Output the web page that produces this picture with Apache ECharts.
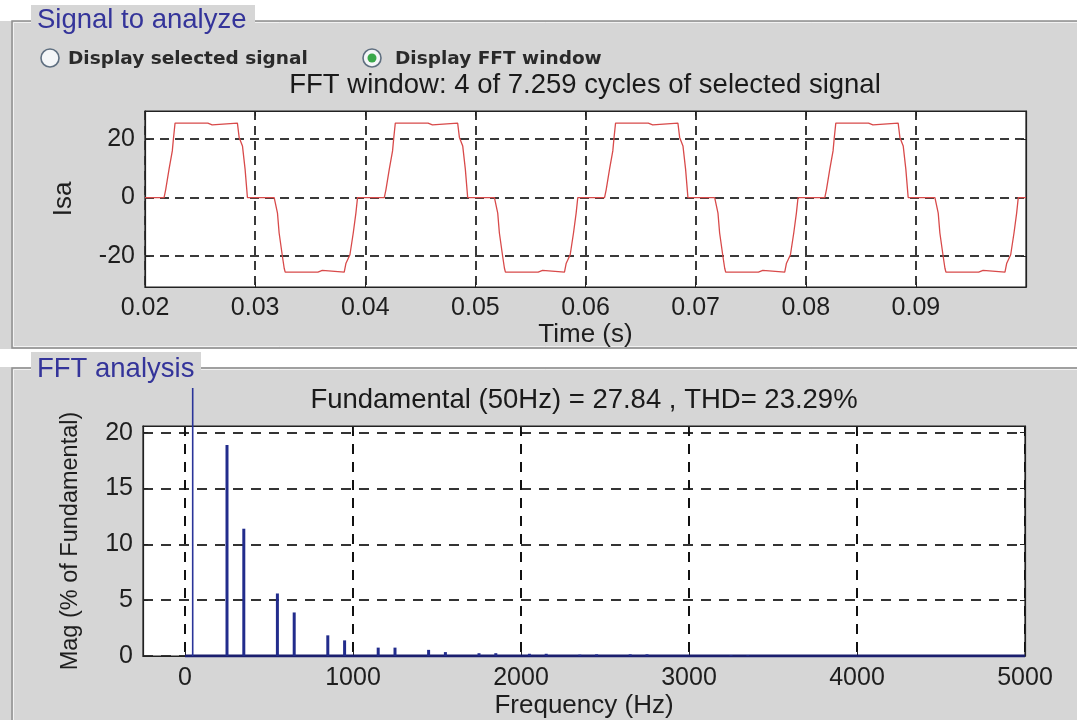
<!DOCTYPE html>
<html>
<head>
<meta charset="utf-8">
<script src="https://cdn.jsdelivr.net/npm/echarts@6/dist/echarts.min.js"></script>
<style>
html,body{margin:0;padding:0;background:#ffffff;}
#chart{width:1077px;height:720px;}
</style>
</head>
<body>
<div id="chart"></div>
<script>
// ---- Time-domain signal (Isa vs time, s) ----
const timeS = [
  0.02,
  0.02173,0.02188,0.02218,0.02248,0.02258,0.02273,0.0257,0.0258,0.0261,0.0262,0.02839,0.02855,0.02885,0.02909,0.0293,0.03173,0.03203,0.03218,0.03248,0.03264,0.03273,0.0357,0.0358,0.0361,0.0362,0.03809,0.03825,0.03861,0.03891,0.03915,0.0393,
  0.04173,0.04188,0.04218,0.04248,0.04258,0.04273,0.0457,0.0458,0.0461,0.0462,0.04839,0.04855,0.04885,0.04909,0.0493,0.05173,0.05203,0.05218,0.05248,0.05264,0.05273,0.0557,0.0558,0.0561,0.0562,0.05809,0.05825,0.05861,0.05891,0.05915,0.0593,
  0.06173,0.06188,0.06218,0.06248,0.06258,0.06273,0.0657,0.0658,0.0661,0.0662,0.06839,0.06855,0.06885,0.06909,0.0693,0.07173,0.07203,0.07218,0.07248,0.07264,0.07273,0.0757,0.0758,0.0761,0.0762,0.07809,0.07825,0.07861,0.07891,0.07915,0.0793,
  0.08173,0.08188,0.08218,0.08248,0.08258,0.08273,0.0857,0.0858,0.0861,0.0862,0.08839,0.08855,0.08885,0.08909,0.0893,0.09173,0.09203,0.09218,0.09248,0.09264,0.09273,0.0957,0.0958,0.0961,0.0962,0.09809,0.09825,0.09861,0.09891,0.09915,0.0993,
  0.1
];
const isaValues = [
  0,
  0,2.7,9.6,15.9,20,25.4,25.4,24.8,24.8,25.4,25.4,20.5,17.6,9.6,0,0,-5.3,-12.1,-20.1,-24.1,-25.4,-25.4,-24.8,-24.8,-25.4,-25.4,-22.4,-19.5,-12.1,-5.3,0,
  0,2.7,9.6,15.9,20,25.4,25.4,24.8,24.8,25.4,25.4,20.5,17.6,9.6,0,0,-5.3,-12.1,-20.1,-24.1,-25.4,-25.4,-24.8,-24.8,-25.4,-25.4,-22.4,-19.5,-12.1,-5.3,0,
  0,2.7,9.6,15.9,20,25.4,25.4,24.8,24.8,25.4,25.4,20.5,17.6,9.6,0,0,-5.3,-12.1,-20.1,-24.1,-25.4,-25.4,-24.8,-24.8,-25.4,-25.4,-22.4,-19.5,-12.1,-5.3,0,
  0,2.7,9.6,15.9,20,25.4,25.4,24.8,24.8,25.4,25.4,20.5,17.6,9.6,0,0,-5.3,-12.1,-20.1,-24.1,-25.4,-25.4,-24.8,-24.8,-25.4,-25.4,-22.4,-19.5,-12.1,-5.3,0,
  0
];
const timeTicks = [0.02,0.03,0.04,0.05,0.06,0.07,0.08,0.09];
const isaTicks = [-20,0,20];

// ---- FFT spectrum (% of fundamental) ----
const fundFreq = [50];
const fundMag = [24];          // drawn height (bar runs above the axes box)
const harmFreq = [250,350,550,650,850,950,1150,1250,1450,1550,1750,1850,2050,2150,2350,2450,2650,2750,3250,3350];
const harmMag  = [18.9,11.4,5.6,3.9,1.85,1.4,0.75,0.75,0.55,0.35,0.25,0.25,0.2,0.2,0.12,0.15,0.15,0.15,0.08,0.08];
const floorFreq = [0,5000];
const floorMag = [0,0];
const freqTicks = [0,1000,2000,3000,4000,5000];
const magTicks = [0,5,10,15,20];

// ---- Texts ----
const panel1Title = 'Signal to analyze';
const panel2Title = 'FFT analysis';
const radio1Text = 'Display selected signal';
const radio2Text = 'Display FFT window';
const topTitle = 'FFT window: 4 of 7.259 cycles of selected signal';
const bottomTitle = 'Fundamental (50Hz) = 27.84 , THD= 23.29%';

const FONT = "'Liberation Sans', Arial, sans-serif";
const PANEL = '#d6d6d6';
const gridDash = {show:true, lineStyle:{color:'#3a3a3a', width:2, type:[9,6]}};

function axisBase(grid, min, max, pos){
  return {gridIndex:grid, type:'value', min:min, max:max, position:pos,
    axisLine:{show:true, onZero:false, lineStyle:{color:'#222', width:1.2}},
    axisTick:{show:true, inside:true, length:5, lineStyle:{color:'#222'}},
    splitLine:{show:false}};
}

const labelStyle = {color:'#1e1e1e', fontSize:25, fontFamily:FONT};
const nameStyle = {color:'#1e1e1e', fontSize:26, fontFamily:FONT};
const plain = v => String(v);

const x0 = Object.assign(axisBase(0, 0.02, 0.1, 'bottom'), {
  axisLabel:Object.assign({show:true, margin:9, customValues:timeTicks}, labelStyle),
  axisTick:{show:true, inside:true, length:5, customValues:timeTicks, lineStyle:{color:'#222'}},
  splitLine:gridDash,
  name:'Time (s)', nameLocation:'middle', nameGap:34, nameTextStyle:nameStyle
});
const x1 = Object.assign(axisBase(0, 0.02, 0.1, 'top'), {
  axisLabel:{show:false},
  axisTick:{show:true, inside:true, length:5, customValues:timeTicks, lineStyle:{color:'#222'}}
});
const y0 = Object.assign(axisBase(0, -30.5, 29.5, 'left'), {
  axisLabel:Object.assign({show:true, margin:10, customValues:isaTicks}, labelStyle),
  axisTick:{show:true, inside:true, length:5, customValues:isaTicks, lineStyle:{color:'#222'}},
  splitLine:gridDash,
  name:'Isa', nameLocation:'middle', nameGap:68, nameTextStyle:nameStyle
});
const y1 = Object.assign(axisBase(0, -30.5, 29.5, 'right'), {
  axisLabel:{show:false},
  axisTick:{show:true, inside:true, length:5, customValues:isaTicks, lineStyle:{color:'#222'}}
});

const x2 = Object.assign(axisBase(1, -250, 5000, 'bottom'), {
  axisLabel:Object.assign({show:true, margin:10, customValues:freqTicks, formatter:plain}, labelStyle),
  axisTick:{show:true, inside:true, length:5, customValues:freqTicks, lineStyle:{color:'#222'}},
  splitLine:{show:true, lineStyle:{color:'#111', width:2, type:[10,8]}},
  name:'Frequency (Hz)', nameLocation:'middle', nameGap:37, nameTextStyle:nameStyle
});
const x3 = Object.assign(axisBase(1, -250, 5000, 'top'), {
  axisLabel:{show:false},
  axisTick:{show:true, inside:true, length:5, customValues:freqTicks, lineStyle:{color:'#222'}}
});
const y2 = Object.assign(axisBase(1, 0, 20.6, 'left'), {
  axisLabel:Object.assign({show:true, margin:10, customValues:magTicks, formatter:plain}, labelStyle),
  axisTick:{show:true, inside:true, length:5, customValues:magTicks, lineStyle:{color:'#222'}},
  splitLine:{show:true, lineStyle:{color:'#333', width:2, type:[10,8]}},
  name:'Mag (% of Fundamental)', nameLocation:'middle', nameGap:60,
  nameTextStyle:{color:'#1e1e1e', fontSize:23.5, fontFamily:FONT}
});
const y3 = Object.assign(axisBase(1, 0, 20.6, 'right'), {
  axisLabel:{show:false},
  axisTick:{show:true, inside:true, length:5, customValues:magTicks, lineStyle:{color:'#222'}}
});

const chart = echarts.init(document.getElementById('chart'), null, {renderer:'canvas'});

const RADIO_FONT = "'DejaVu Sans', sans-serif";
const graphics = [
  {type:'rect', z:-100, shape:{x:0,y:0,width:1077,height:720}, style:{fill:'#ffffff'}},
  {type:'rect', z:-99, shape:{x:0,y:21,width:1077,height:328}, style:{fill:PANEL}},
  {type:'rect', z:-99, shape:{x:0,y:367,width:1077,height:353}, style:{fill:PANEL}},
  {type:'rect', z:-98, shape:{x:12,y:21,width:1100,height:327}, style:{fill:null, stroke:'#8f8f8f', lineWidth:1.5}},
  {type:'rect', z:-98, shape:{x:13.5,y:22.5,width:1100,height:324}, style:{fill:null, stroke:'#f2f2f2', lineWidth:1}},
  {type:'rect', z:-98, shape:{x:12,y:368,width:1100,height:400}, style:{fill:null, stroke:'#8f8f8f', lineWidth:1.5}},
  {type:'rect', z:-98, shape:{x:13.5,y:369.5,width:1100,height:400}, style:{fill:null, stroke:'#f2f2f2', lineWidth:1}},
  {type:'rect', z:-97, shape:{x:31,y:5,width:224,height:28}, style:{fill:PANEL}},
  {type:'rect', z:-97, shape:{x:31,y:352,width:170,height:30}, style:{fill:PANEL}},
  {type:'text', z:50, x:37, y:20, style:{text:panel1Title, fontSize:27.5, fontFamily:FONT, fill:'#34349a', align:'left', verticalAlign:'middle'}},
  {type:'text', z:50, x:37, y:369, style:{text:panel2Title, fontSize:27.5, fontFamily:FONT, fill:'#34349a', align:'left', verticalAlign:'middle'}},
  {type:'circle', z:50, shape:{cx:50,cy:58,r:9}, style:{fill:'#f4f6f8', stroke:'#5f6f80', lineWidth:1.6}},
  {type:'circle', z:50, shape:{cx:372,cy:58,r:9}, style:{fill:'#f4f6f8', stroke:'#5f6f80', lineWidth:1.6}},
  {type:'circle', z:51, shape:{cx:372,cy:58,r:4.5}, style:{fill:'#3aa84a'}},
  {type:'text', z:50, x:68, y:59, style:{text:radio1Text, fontSize:18.5, fontWeight:'bold', fontFamily:RADIO_FONT, fill:'#2a2a2a', align:'left', verticalAlign:'middle'}},
  {type:'text', z:50, x:395, y:59, style:{text:radio2Text, fontSize:18.5, fontWeight:'bold', fontFamily:RADIO_FONT, fill:'#2a2a2a', align:'left', verticalAlign:'middle'}},
  {type:'text', z:50, x:585, y:85, style:{text:topTitle, fontSize:27.5, fontFamily:FONT, fill:'#1a1a1a', align:'center', verticalAlign:'middle'}},
  {type:'text', z:50, x:584, y:400, style:{text:bottomTitle, fontSize:27.5, fontFamily:FONT, fill:'#1a1a1a', align:'center', verticalAlign:'middle'}}
];

chart.setOption({
  animation:false,
  backgroundColor:'transparent',
  graphic:{elements:graphics},
  grid:[
    {left:145, top:111, width:881, height:176, show:true, backgroundColor:'#ffffff', borderColor:'#222', borderWidth:1.2},
    {left:143, top:426, width:882, height:230, show:true, backgroundColor:'#ffffff', borderColor:'#222', borderWidth:1.2}
  ],
  xAxis:[x0,x1,x2,x3],
  yAxis:[y0,y1,y2,y3],
  series:[
    {type:'line', name:'Isa', xAxisIndex:0, yAxisIndex:0, showSymbol:false, symbol:'none',
     lineStyle:{color:'#d84a4a', width:1.3}, data:timeS.map((t,i)=>[t, isaValues[i]])},
    {type:'line', name:'floor', xAxisIndex:2, yAxisIndex:2, symbol:'none', z:3,
     lineStyle:{color:'#1a1f6e', width:3}, data:floorFreq.map((f,i)=>[f, floorMag[i]])},
    {type:'bar', name:'fundamental', xAxisIndex:2, yAxisIndex:2, barWidth:1.6, clip:false, z:4,
     itemStyle:{color:'#2a3499'}, data:fundFreq.map((f,i)=>[f, fundMag[i]])},
    {type:'bar', name:'harmonics', xAxisIndex:2, yAxisIndex:2, barWidth:3, barGap:'-100%', z:4,
     itemStyle:{color:'#222c8c'}, data:harmFreq.map((f,i)=>[f, harmMag[i]])}
  ]
});
</script>
</body>
</html>
